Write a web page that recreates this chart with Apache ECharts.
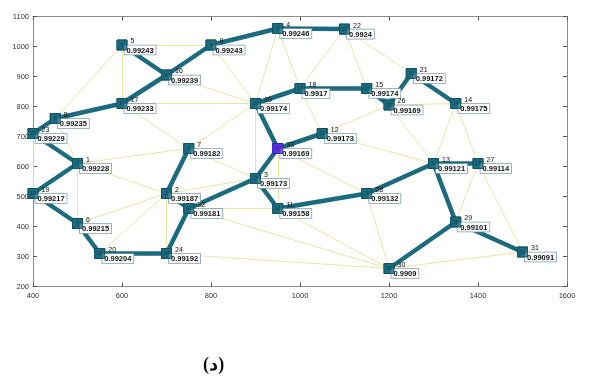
<!DOCTYPE html>
<html>
<head>
<meta charset="utf-8">
<script src="https://cdn.jsdelivr.net/npm/echarts@6/dist/echarts.min.js"></script>
<style>
html,body{margin:0;padding:0;background:#fff;}
#c{width:590px;height:385px;}
</style>
</head>
<body>
<div id="c"></div>
<script>
// Node data
const nodeIds   = ['1','2','3','4','5','6','7','8','9','10','11','12','13','14','15','16','17','18','19','20','21','22','23','24','26','27','28','29','30','31','32','33'];
const nodeX     = [500,700,900,950,600,500,750,450,800,900,950,1050,1300,1350,1150,700,600,1000,400,550,1250,1100,400,700,1200,1400,1150,1350,1200,1500,750,950];
const nodeY     = [610,510,560,1060,1005,410,660,760,1005,810,460,710,610,810,860,905,810,860,510,310,910,1058,710,310,805,610,510,415,260,315,460,660];
const nodeValue = ['0.99228','0.99187','0.99173','0.99246','0.99243','0.99215','0.99182','0.99235','0.99243','0.99174','0.99158','0.99173','0.99121','0.99175','0.99174','0.99239','0.99233','0.9917','0.99217','0.99204','0.99172','0.9924','0.99229','0.99192','0.99169','0.99114','0.99132','0.99101','0.9909','0.99091','0.99181','0.99169'];
const highlightNode = '33';

// Thick path (tree) edges
const treeEdges = [['5','16'],['9','16'],['9','4'],['4','22'],['16','17'],['17','8'],['8','23'],['23','1'],['1','19'],['19','6'],['6','20'],['20','24'],['24','32'],['32','2'],['2','7'],['32','3'],['3','11'],['3','33'],['33','10'],['33','12'],['10','18'],['18','15'],['15','26'],['26','21'],['21','14'],['11','28'],['28','13'],['13','27'],['13','29'],['29','31'],['29','30']];
// Thin mesh edges
const meshEdges = [['5','9'],['5','8'],['5','17'],['17','10'],['16','10'],['9','10'],['4','10'],['4','18'],['22','18'],['22','15'],['22','21'],['17','7'],['7','10'],['7','3'],['1','7'],['8','1'],['23','19'],['1','6'],['1','2'],['6','2'],['20','2'],['2','24'],['2','3'],['10','3'],['33','11'],['32','11'],['32','30'],['24','30'],['11','30'],['28','30'],['33','28'],['18','12'],['12','26'],['12','13'],['26','13'],['26','14'],['14','13'],['14','27'],['27','29'],['27','31'],['30','31']];

const xMin = 400, xMax = 1600, xStep = 200;
const yMin = 200, yMax = 1100, yStep = 100;

const chart = echarts.init(document.getElementById('c'), null, {renderer:'canvas'});

const teal = '#1b6a7e';
const nodes = nodeIds.map((id,i)=>({
  name:id,
  value:[nodeX[i],nodeY[i]],
  val:nodeValue[i],
  itemStyle: id===highlightNode ? {color:'#5631e4', borderColor:'#3b1fb0', borderWidth:1} : {color:teal, borderColor:'#0f5062', borderWidth:1}
}));
const links = [];
meshEdges.forEach(e=>links.push({source:e[0],target:e[1],lineStyle:{color:'#e4e49c',width:0.9,opacity:1}}));
treeEdges.forEach(e=>links.push({source:e[0],target:e[1],lineStyle:{color:teal,width:4.5,opacity:1}}));

const axisCommon = {
  axisLine:{show:true,onZero:false,lineStyle:{color:'#8c8c8c',width:1}},
  axisTick:{show:true,inside:true,length:4,lineStyle:{color:'#555'}},
  splitLine:{show:false}
};
const plain = v => String(v);

chart.setOption({
  animation:false,
  backgroundColor:'#fff',
  grid:{left:33,right:23,top:16.5,bottom:98.5,containLabel:false},
  xAxis:[
    Object.assign({type:'value',min:xMin,max:xMax,interval:xStep,position:'bottom',
      axisLabel:{color:'#333',fontSize:7.5,fontFamily:'Liberation Sans',margin:5,formatter:plain}},axisCommon),
    Object.assign({type:'value',min:xMin,max:xMax,interval:xStep,position:'top',
      axisLabel:{show:false}},axisCommon)
  ],
  yAxis:[
    Object.assign({type:'value',min:yMin,max:yMax,interval:yStep,position:'left',
      axisLabel:{color:'#333',fontSize:7.5,fontFamily:'Liberation Sans',margin:4,formatter:plain}},axisCommon),
    Object.assign({type:'value',min:yMin,max:yMax,interval:yStep,position:'right',
      axisLabel:{show:false}},axisCommon)
  ],
  series:[
    {
      type:'graph',
      coordinateSystem:'cartesian2d',
      xAxisIndex:0,yAxisIndex:0,
      layout:'none',
      symbol:'rect',
      symbolSize:10,
      data:nodes,
      links:links,
      z:2,
      label:{
        show:true,
        position:[8,-2],
        align:'left',
        verticalAlign:'top',
        formatter:p=>'{id|'+p.data.name+'}\n{val|'+p.data.val+'}',
        rich:{
          id:{fontSize:7,color:'#111',fontFamily:'Liberation Sans',padding:[0,0,0,6],lineHeight:8},
          val:{fontSize:7.5,fontWeight:'bold',color:'#111',fontFamily:'Liberation Sans',backgroundColor:'#fff',borderColor:'#7fa0b2',borderWidth:0.8,padding:[1,2,0,2],lineHeight:9}
        }
      },
      emphasis:{disabled:true}
    },
    {
      type:'scatter',
      xAxisIndex:0,yAxisIndex:0,
      symbol:'rect',
      symbolSize:10,
      z:5,
      data:nodes.map(n=>({name:n.name,value:n.value,itemStyle:n.itemStyle})),
      label:{show:true,position:'inside',formatter:p=>p.data.name,fontSize:5.5,color:'#0a3844',fontFamily:'Liberation Sans'},
      emphasis:{disabled:true}
    }
  ],
  graphic:[
    {type:'text',left:203,top:356,style:{text:'(د)',font:'bold 18px "Liberation Serif","DejaVu Sans"',fill:'#111'}}
  ]
});
</script>
</body>
</html>
